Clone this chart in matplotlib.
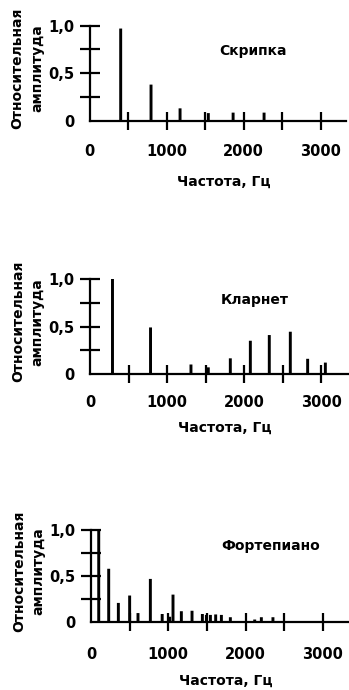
import matplotlib
matplotlib.use("Agg")
import matplotlib.pyplot as plt

# ---------------- DATA ----------------
violin_freq = [405, 799, 1176, 1543, 1865, 2267]
violin_amp = [0.97, 0.38, 0.13, 0.08, 0.085, 0.085]

clarinet_freq = [292, 786, 1311, 1536, 1822, 2082, 2328, 2601, 2826, 3056]
clarinet_amp = [1.0, 0.49, 0.10, 0.07, 0.165, 0.35, 0.41, 0.445, 0.16, 0.12]

piano_freq = [100, 229, 354, 500, 608, 768, 921, 1018, 1061, 1169,
              1307, 1441, 1493, 1545, 1613, 1687, 1803, 2118, 2204, 2354]
piano_amp = [1.0, 0.58, 0.21, 0.29, 0.10, 0.47, 0.09, 0.06, 0.30, 0.12,
             0.125, 0.09, 0.08, 0.08, 0.085, 0.08, 0.055, 0.03, 0.055, 0.055]

names = ["Скрипка", "Кларнет", "Фортепиано"]

x_ticks = [0, 500, 1000, 1500, 2000, 2500, 3000]
x_labels = ["0", "", "1000", "", "2000", "", "3000"]
y_ticks = [0, 0.25, 0.5, 0.75, 1.0]
y_labels = ["0", "", "0,5", "", "1,0"]

plt.rcParams["font.family"] = ["DejaVu Sans"]
plt.rcParams["font.weight"] = "bold"
plt.rcParams["axes.labelweight"] = "bold"

W, H = 349, 690
fig = plt.figure(figsize=(W / 100, H / 100), dpi=100)

# (left px, top px, bottom px, right px, xmax, tick pad, name y, xlabel offset)
panels = [
    (violin_freq, violin_amp, 89.5, 25.7, 120.7, 346, 3331, 10.5, 0.73, 61),
    (clarinet_freq, clarinet_amp, 90, 279, 374, 348, 3350, 8.5, 0.78, 54),
    (piano_freq, piano_amp, 91, 530, 622.3, 349, 3338, 11, 0.83, 58),
]

for i, (fr, am, l, t, b, r, xmax, pad, ny, xlab) in enumerate(panels):
    ax = fig.add_axes([l / W, 1 - b / H, (r - l) / W, (b - t) / H])
    ax.bar(fr, am, width=38, color="black", linewidth=0, snap=False,
           clip_on=False)
    ax.set_xlim(0, xmax)
    ax.set_ylim(0, 1.0)
    for s in ["top", "right"]:
        ax.spines[s].set_visible(False)
    for s in ["left", "bottom"]:
        ax.spines[s].set_linewidth(1.6)
    ax.set_xticks(x_ticks, x_labels)
    ax.set_yticks(y_ticks, y_labels)
    ax.tick_params(axis="x", direction="inout", length=13, width=1.6,
                   pad=pad, labelsize=10.5)
    ax.tick_params(axis="y", direction="inout", length=14, width=1.6,
                   pad=4, labelsize=10.5)
    ax.xaxis.get_major_ticks()[0].tick1line.set_visible(False)
    ax.yaxis.get_major_ticks()[0].tick1line.set_visible(False)

    ax.set_xlabel("Частота, Гц", fontsize=10, fontweight="bold", va="center")
    ax.xaxis.set_label_coords(0.524, -xlab / (b - t))
    ax.set_ylabel("Относительная\nамплитуда", fontsize=10, fontweight="bold",
                  va="center", linespacing=1.5)
    ax.yaxis.set_label_coords(-62 / (r - l), 0.55)

    ax.text(0.506, ny, names[i], transform=ax.transAxes, fontsize=10,
            fontweight="bold", ha="left", va="center")

fig.savefig("out.png", dpi=100)
